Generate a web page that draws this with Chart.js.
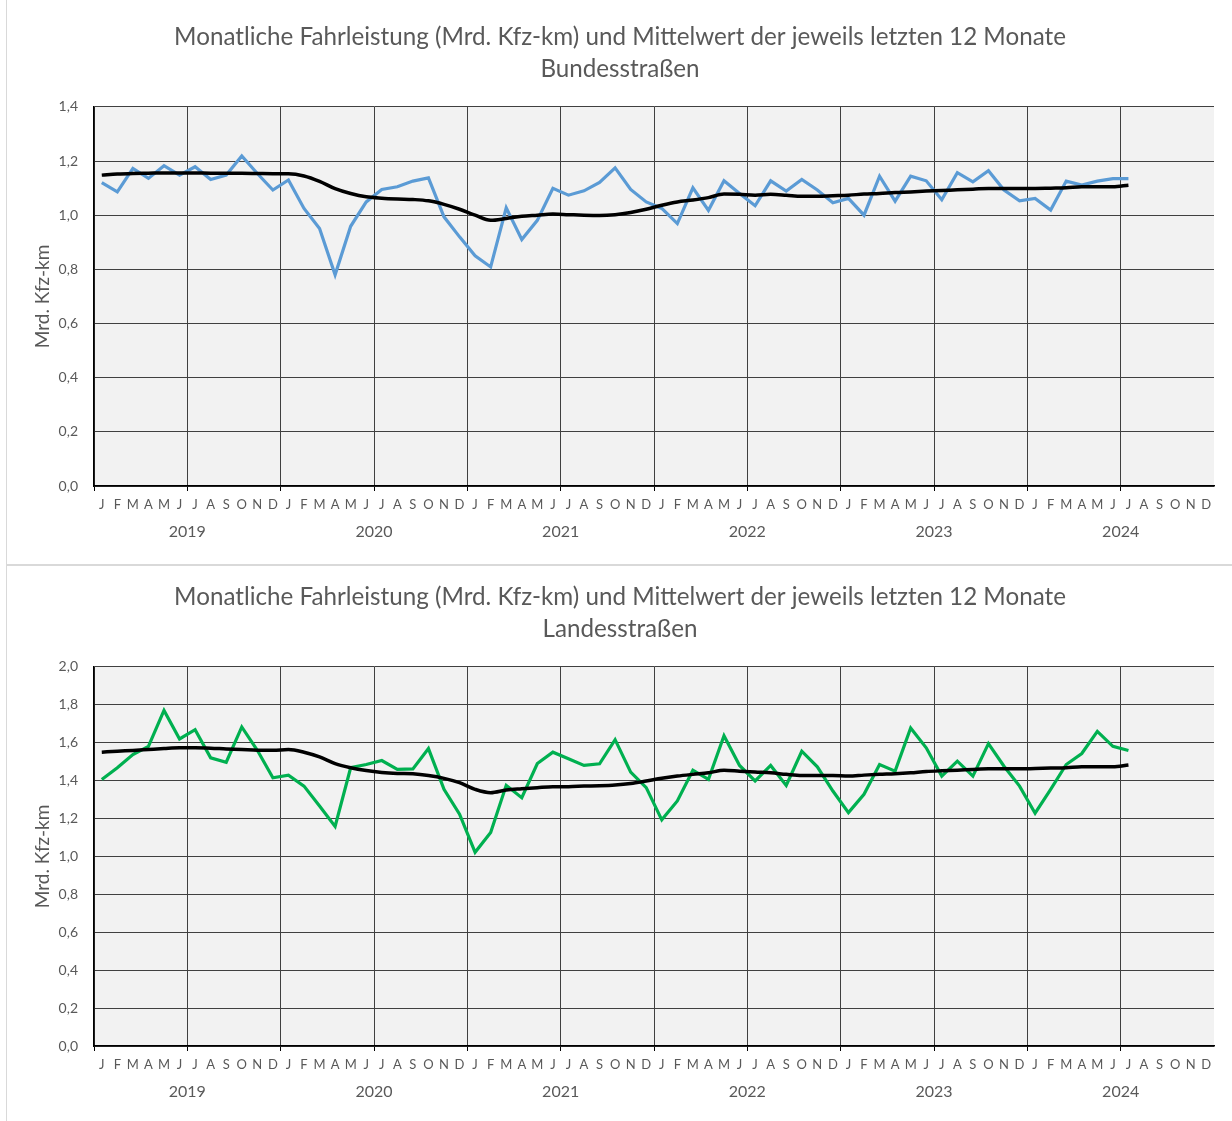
<!DOCTYPE html>
<html>
<head>
<meta charset="utf-8">
<script src="https://cdn.jsdelivr.net/npm/chart.js@4/dist/chart.umd.min.js"></script>
<style>
  html, body { margin: 0; padding: 0; background: #ffffff; width: 1232px; height: 1121px; overflow: hidden; position: relative; }
  .frame { position: absolute; left: 6px; top: -2px; width: 1300px; height: 1200px; border-left: 1px solid #d9d9d9; }
  .sep { position: absolute; left: 6px; top: 564px; width: 1300px; height: 0; border-top: 2px solid #d9d9d9; }
  canvas { position: absolute; left: 0; }
  #c1 { top: 0; }
  #c2 { top: 560px; }
</style>
</head>
<body>
<div class="frame"></div>
<div class="sep"></div>
<canvas id="c1" width="1232" height="565"></canvas>
<canvas id="c2" width="1232" height="565"></canvas>
<script>
// ---------- data ----------
const monthLetters = ['J','F','M','A','M','J','J','A','S','O','N','D'];
const years = ['2019','2020','2021','2022','2023','2024'];
const titleMain = 'Monatliche Fahrleistung (Mrd. Kfz-km) und Mittelwert der jeweils letzten 12 Monate';
const titleBund = 'Bundesstraßen';
const titleLand = 'Landesstraßen';
const yAxisTitle = 'Mrd. Kfz-km';

// Bundesstraßen: monthly values Jan 2019 - Jul 2024
const bundMonthly = [
  1.120, 1.086, 1.173, 1.136, 1.183, 1.148, 1.179, 1.132, 1.148, 1.219, 1.154, 1.093,
  1.130, 1.025, 0.951, 0.780, 0.959, 1.049, 1.095, 1.105, 1.126, 1.138, 0.994, 0.920,
  0.850, 0.809, 1.027, 0.910, 0.981, 1.099, 1.074, 1.090, 1.121, 1.175, 1.095, 1.049,
  1.025, 0.969, 1.101, 1.018, 1.127, 1.080, 1.035, 1.127, 1.089, 1.132, 1.093, 1.046,
  1.062, 1.000, 1.144, 1.052, 1.144, 1.127, 1.057, 1.157, 1.123, 1.164, 1.093, 1.053,
  1.062, 1.019, 1.126, 1.111, 1.126, 1.135, 1.135
];
// Bundesstraßen: 12-month mean
const bundMean = [
  1.148, 1.152, 1.154, 1.155, 1.156, 1.156, 1.156, 1.155, 1.155, 1.155, 1.154, 1.153,
  1.153, 1.145, 1.125, 1.098, 1.080, 1.068, 1.063, 1.060, 1.058, 1.053, 1.040, 1.022,
  1.000, 0.981, 0.988, 0.996, 1.000, 1.004, 1.002, 1.000, 0.999, 1.002, 1.010, 1.022,
  1.037, 1.049, 1.056, 1.065, 1.078, 1.077, 1.074, 1.077, 1.074, 1.070, 1.070, 1.072,
  1.074, 1.078, 1.080, 1.084, 1.086, 1.089, 1.091, 1.094, 1.096, 1.099, 1.099, 1.099,
  1.099, 1.100, 1.101, 1.105, 1.105, 1.105, 1.111
];
// Landesstraßen: monthly values
const landMonthly = [
  1.406, 1.468, 1.538, 1.581, 1.770, 1.620, 1.669, 1.520, 1.497, 1.683, 1.560, 1.415,
  1.429, 1.371, 1.266, 1.158, 1.468, 1.485, 1.506, 1.459, 1.462, 1.569, 1.354, 1.223,
  1.022, 1.126, 1.375, 1.310, 1.490, 1.550, 1.515, 1.480, 1.489, 1.616, 1.445, 1.363,
  1.193, 1.293, 1.455, 1.406, 1.637, 1.480, 1.398, 1.480, 1.375, 1.555, 1.473, 1.345,
  1.231, 1.328, 1.485, 1.450, 1.678, 1.573, 1.424, 1.503, 1.424, 1.595, 1.476, 1.371,
  1.228, 1.354, 1.485, 1.543, 1.660, 1.581, 1.559
];
// Landesstraßen: 12-month mean
const landMean = [
  1.550, 1.555, 1.559, 1.564, 1.569, 1.573, 1.573, 1.571, 1.567, 1.564, 1.560, 1.560,
  1.564, 1.550, 1.525, 1.490, 1.468, 1.453, 1.443, 1.438, 1.436, 1.427, 1.412, 1.389,
  1.354, 1.336, 1.350, 1.357, 1.363, 1.368, 1.368, 1.371, 1.373, 1.377, 1.385, 1.398,
  1.412, 1.424, 1.433, 1.441, 1.455, 1.450, 1.445, 1.441, 1.433, 1.427, 1.427, 1.427,
  1.424, 1.429, 1.433, 1.436, 1.441, 1.448, 1.452, 1.455, 1.459, 1.462, 1.462, 1.462,
  1.464, 1.466, 1.468, 1.473, 1.473, 1.473, 1.483
];
const bundYMax = 1.4;
const landYMax = 2.0;

// ---------- chart building ----------
const FONT = 'Lato, "Open Sans", sans-serif';
const TEXT = '#595959';
const GRID = '#404040';

const monthLabels = [];
years.forEach(() => monthLetters.forEach(m => monthLabels.push(m)));

const plotBg = {
  id: 'plotBg',
  beforeDraw(chart) {
    const a = chart.chartArea, ctx = chart.ctx;
    ctx.save();
    ctx.fillStyle = '#f2f2f2';
    ctx.fillRect(a.left, a.top, a.right - a.left, a.bottom - a.top);
    ctx.restore();
  }
};

function makeChart(id, subtitle, monthly, mean, color, yMax) {
  return new Chart(document.getElementById(id), {
    type: 'line',
    data: {
      labels: monthLabels,
      datasets: [
        { data: mean, borderColor: '#000000', borderWidth: 3.5, pointRadius: 0, tension: 0.4, cubicInterpolationMode: 'monotone', order: 0 },
        { data: monthly, borderColor: color, borderWidth: 3.2, pointRadius: 0, tension: 0, order: 1, borderJoinStyle: 'miter' }
      ]
    },
    options: {
      responsive: false,
      animation: false,
      devicePixelRatio: 1,
      layout: { padding: { left: 26, right: 18, top: 0, bottom: 3 } },
      plugins: {
        legend: { display: false },
        tooltip: { enabled: false },
        title: {
          display: true,
          text: [titleMain, subtitle],
          color: TEXT,
          font: { family: FONT, size: 24.2, weight: 'normal', lineHeight: 1.32 },
          padding: { top: 21, bottom: 22 }
        }
      },
      scales: {
        x: {
          type: 'category',
          position: 'bottom',
          offset: true,
          weight: 0,
          grid: {
            offset: true,
            drawTicks: true,
            tickLength: 5,
            lineWidth: 1,
            color: c => (c.index % 6 === 0 ? GRID : 'rgba(0,0,0,0)'),
            tickColor: c => (c.index % 6 === 0 ? '#000000' : 'rgba(0,0,0,0)')
          },
          border: { display: true, color: '#000000', width: 1.5 },
          ticks: { autoSkip: false, maxRotation: 0, minRotation: 0, padding: 6, color: TEXT, font: { family: FONT, size: 13 } },
          afterFit: s => { s.height = 26; }
        },
        year: {
          type: 'category',
          position: 'bottom',
          labels: years,
          offset: true,
          weight: 1,
          grid: { display: false, drawTicks: false },
          border: { display: false },
          ticks: { autoSkip: false, maxRotation: 0, padding: 10, color: TEXT, font: { family: FONT, size: 16 } },
          afterFit: s => { s.height = 50; }
        },
        y: {
          min: 0,
          max: yMax,
          grid: { color: GRID, lineWidth: 1, drawTicks: false },
          border: { display: true, color: '#000000', width: 1.5 },
          ticks: {
            stepSize: 0.2,
            padding: 16,
            color: TEXT,
            font: { family: FONT, size: 14 },
            callback: v => v.toFixed(1).replace('.', ',')
          },
          title: { display: true, text: yAxisTitle, color: TEXT, font: { family: FONT, size: 19 }, padding: { top: 5, bottom: 0 } },
          afterFit: s => { s.width = 68; }
        }
      }
    },
    plugins: [plotBg]
  });
}

makeChart('c1', titleBund, bundMonthly, bundMean, '#5b9bd5', bundYMax);
makeChart('c2', titleLand, landMonthly, landMean, '#00b050', landYMax);
</script>
</body>
</html>
